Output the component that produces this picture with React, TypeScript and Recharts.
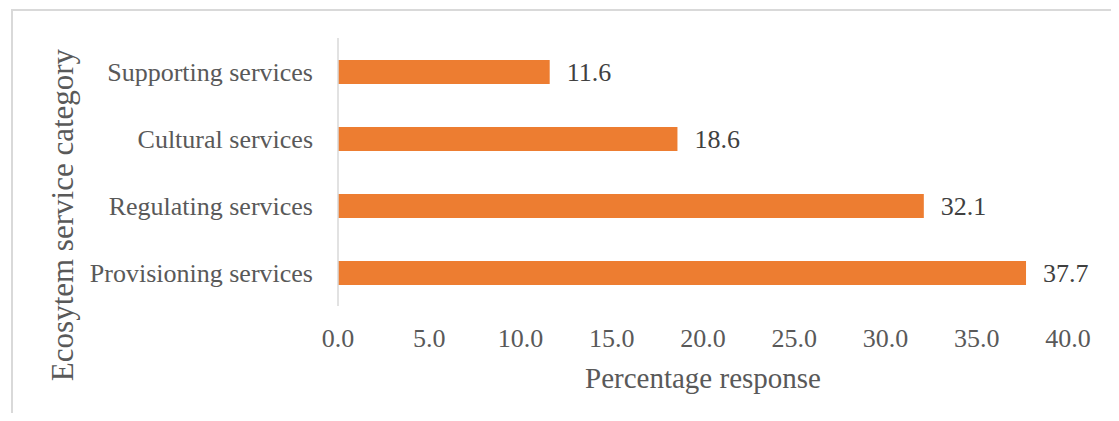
import { BarChart, Bar, XAxis, YAxis, LabelList } from 'recharts'

// Ecosystem service categories, listed top to bottom
const CATEGORIES = [
  'Supporting services',
  'Cultural services',
  'Regulating services',
  'Provisioning services',
]

// Percentage of respondents per category
const PERCENTAGES = [11.6, 18.6, 32.1, 37.7]

const X_TICKS = [0, 5, 10, 15, 20, 25, 30, 35, 40]

const FONT = '"Liberation Serif", "Times New Roman", serif'
const BAR_COLOR = '#ED7D31'
const TEXT_COLOR = '#595959'
const LINE_COLOR = '#D9D9D9'

const data = CATEGORIES.map((category, i) => ({
  category,
  value: PERCENTAGES[i],
}))

function XTick({ x, y, payload }: any) {
  return (
    <text x={x} y={y + 41} textAnchor="middle" fontSize={26} fontFamily={FONT} fill={TEXT_COLOR}>
      {Number(payload.value).toFixed(1)}
    </text>
  )
}

function YTitle() {
  const x = 65
  const y = 207
  return (
    <text
      x={x}
      y={y}
      transform={`rotate(-90, ${x}, ${y})`}
      textAnchor="middle"
      fontSize={31}
      fontFamily={FONT}
      fill={TEXT_COLOR}
    >
      Ecosytem service category
    </text>
  )
}

export default function App() {
  return (
    <div style={{ position: 'relative', width: 1111, height: 405, fontFamily: FONT }}>
      {/* chart frame, only top and left edges fall inside the view */}
      <div
        style={{
          position: 'absolute',
          left: 3,
          top: 1,
          width: 1108,
          height: 404,
          boxSizing: 'border-box',
          borderTop: `2px solid ${LINE_COLOR}`,
          borderLeft: `2px solid ${LINE_COLOR}`,
        }}
      />
      <BarChart
        width={1111}
        height={405}
        data={data}
        layout="vertical"
        margin={{ top: 30, right: 51, left: 0, bottom: 17 }}
        barCategoryGap={0}
        style={{ position: 'absolute', left: 0, top: 0 }}
      >
        <XAxis
          type="number"
          domain={[0, 40]}
          ticks={X_TICKS}
          interval={0}
          axisLine={false}
          tickLine={false}
          tickSize={0}
          tickMargin={0}
          height={90}
          tick={<XTick />}
          label={{
            value: 'Percentage response',
            position: 'insideBottom',
            offset: 8,
            fontSize: 29,
            fontFamily: FONT,
            fill: TEXT_COLOR,
          }}
        />
        <YAxis
          type="category"
          dataKey="category"
          width={330}
          tickLine={false}
          tickSize={0}
          tickMargin={25}
          axisLine={{ stroke: LINE_COLOR, strokeWidth: 1.5 }}
          tick={{ fontSize: 26, fontFamily: FONT, fill: TEXT_COLOR }}
          label={{ content: () => <YTitle /> }}
        />
        <Bar dataKey="value" fill={BAR_COLOR} barSize={24} isAnimationActive={false}>
          <LabelList
            dataKey="value"
            position="right"
            offset={17}
            fontSize={26}
            fontFamily={FONT}
            fill="#404040"
            formatter={(v: any) => Number(v).toFixed(1)}
          />
        </Bar>
      </BarChart>
    </div>
  )
}
